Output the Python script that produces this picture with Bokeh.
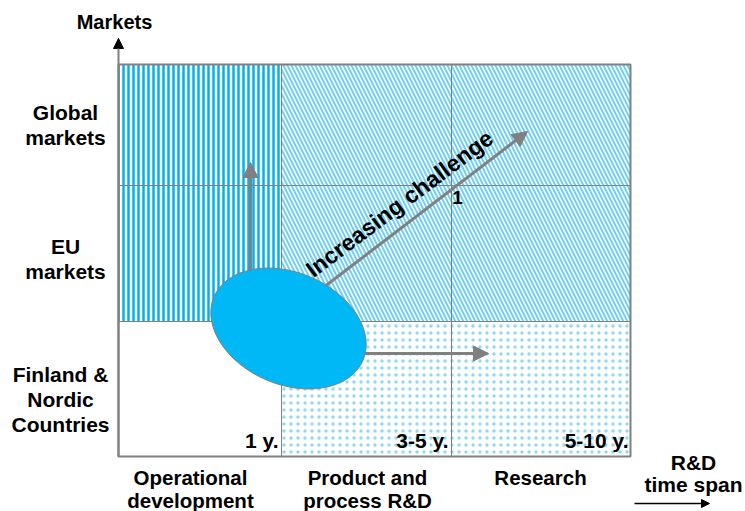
from bokeh.plotting import figure
from bokeh.models import Range1d, Arrow, NormalHead
from bokeh.embed import file_html
from bokeh.resources import INLINE
from bokeh.core.properties import value

# ---------------- data (labels of the diagram) ----------------
markets = ["Finland &\nNordic\nCountries", "EU\nmarkets", "Global\nmarkets"]  # rows, bottom -> top
activities = ["Operational\ndevelopment", "Product and\nprocess R&D", "Research"]  # columns
time_spans = ["1 y.", "3-5 y.", "5-10 y."]
y_title = ["Markets"]
x_title = ["R&D\ntime span"]
challenge = ["Increasing challenge"]
marker = ["1"]

# ---------------- layout (diagram units, origin at lower-left of the box) ----------------
col_edges = [0, 163, 333, 512]
row_edges = [0, 135, 271, 392]
FONT = value("Liberation Sans")
GRAY = "#808080"

p = figure(width=745, height=511, x_range=Range1d(-118, 627), y_range=Range1d(-55, 456),
           x_axis_type=None, y_axis_type=None, toolbar_location=None,
           output_backend="svg", min_border=0, outline_line_color=None,
           background_fill_color="white", border_fill_color="white")

# patterned regions
p.quad(left=[col_edges[0]], right=[col_edges[1]], bottom=[row_edges[1]], top=[row_edges[3]],
       fill_color="white", line_color=None, hatch_pattern="vertical_line",
       hatch_color="#00B0F0", hatch_scale=5, hatch_weight=2.5)
p.quad(left=[col_edges[1]], right=[col_edges[3]], bottom=[row_edges[1]], top=[row_edges[3]],
       fill_color="white", line_color=None, hatch_pattern="left_diagonal_line",
       hatch_color="#6FD0F5", hatch_scale=8, hatch_weight=2)
p.quad(left=[col_edges[1]], right=[col_edges[3]], bottom=[row_edges[0]], top=[row_edges[1]],
       fill_color="white", line_color=None, hatch_pattern="dot",
       hatch_color="#8FD8F6", hatch_scale=7, hatch_weight=1)

# inner grid lines
inner_x = col_edges[1:-1]
inner_y = row_edges[1:-1]
p.segment(x0=inner_x, x1=inner_x, y0=[row_edges[0]] * len(inner_x), y1=[row_edges[-1]] * len(inner_x),
          line_color=GRAY, line_width=1)
p.segment(x0=[col_edges[0]] * len(inner_y), x1=[col_edges[-1]] * len(inner_y), y0=inner_y, y1=inner_y,
          line_color=GRAY, line_width=1)
# outer box
p.quad(left=[col_edges[0]], right=[col_edges[-1]], bottom=[row_edges[0]], top=[row_edges[-1]],
       fill_color=None, line_color=GRAY, line_width=2)

# vertical axis arrow
p.add_layout(Arrow(end=NormalHead(size=10, fill_color="black", line_color="black"),
                   x_start=0, y_start=0, x_end=0, y_end=418,
                   line_color=GRAY, line_width=2))
# time-span arrow
p.add_layout(Arrow(end=NormalHead(size=8, fill_color="black", line_color="black"),
                   x_start=516, y_start=-47, x_end=591, y_end=-47,
                   line_color="black", line_width=1.5))

# gray development arrows
head = dict(size=15, fill_color=GRAY, line_color=GRAY)
p.add_layout(Arrow(end=NormalHead(**head), x_start=132, y_start=156, x_end=132, y_end=294,
                   line_color=GRAY, line_width=3))
p.add_layout(Arrow(end=NormalHead(**head), x_start=230, y_start=103, x_end=370, y_end=103,
                   line_color=GRAY, line_width=3))
p.add_layout(Arrow(end=NormalHead(**head), x_start=180, y_start=150, x_end=409, y_end=325,
                   line_color=GRAY, line_width=3))

# ellipse (current position)
p.ellipse(x=[170], y=[128], width=162, height=112, angle=-23, angle_units="deg",
          fill_color="#00B8F5", line_color=GRAY, line_width=1, level="overlay")

txt = dict(text_font=FONT, text_font_style="bold", text_color="black")

# row labels
p.text(x=[-58, -53, -53], y=[94, 222, 356], text=markets, text_font_size="21px",
       text_align="center", text_baseline="top", text_line_height=1.1, **txt)
# column labels
p.text(x=[72, 249, 422], y=[-9, -9, -9], text=activities, text_font_size="20.5px",
       text_align="center", text_baseline="top", text_line_height=1.0, **txt)
# time spans
p.text(x=[160, 330, 510], y=[16, 16, 16], text=time_spans, text_font_size="21px",
       text_align="right", text_baseline="alphabetic", **txt)
# axis titles
p.text(x=[-4], y=[446], text=y_title, text_font_size="20px",
       text_align="center", text_baseline="top", **txt)
p.text(x=[575], y=[6], text=x_title, text_font_size="21px",
       text_align="center", text_baseline="top", text_line_height=0.98, **txt)
# challenge label
p.text(x=[281], y=[253], text=challenge, text_font_size="23px", angle=37, angle_units="deg",
       text_align="center", text_baseline="alphabetic", level="overlay", **txt)
p.text(x=[339], y=[259], text=marker, text_font_size="19px",
       text_align="center", text_baseline="middle", **txt)

open("out.html", "w").write(file_html(p, INLINE))
